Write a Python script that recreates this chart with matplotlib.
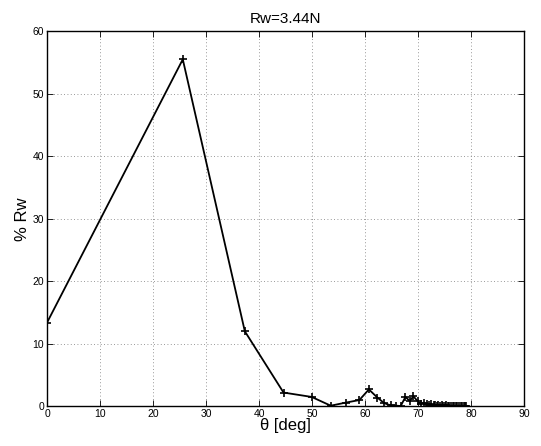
import matplotlib
matplotlib.use("Agg")
import matplotlib.pyplot as plt

plt.rcParams['font.family'] = ['Liberation Sans', 'DejaVu Sans']

theta = [0.0, 25.6, 37.3, 44.6, 49.9, 53.5, 56.4, 58.9, 60.7, 62.3, 63.6, 64.8,
         65.8, 66.7, 67.6, 68.4, 69.1, 69.9, 70.5, 71.1, 71.7, 72.1, 72.5, 72.9,
         73.2, 73.5, 73.8, 74.1, 74.4, 74.7, 75.0, 75.3, 75.6, 75.9, 76.2, 76.5,
         76.8, 77.1, 77.4, 77.7, 78.0, 78.3, 78.6, 78.9, 79.1]
rw_pct = [13.4, 55.5, 12.0, 2.2, 1.5, 0.1, 0.6, 1.0, 2.7, 1.4, 0.5, 0.15,
          0.1, 0.05, 1.5, 0.85, 1.6, 0.8, 0.4, 0.6, 0.3, 0.2, 0.3, 0.15,
          0.2, 0.1, 0.2, 0.1, 0.15, 0.1, 0.1, 0.15, 0.1, 0.05, 0.1, 0.1,
          0.05, 0.1, 0.05, 0.1, 0.05, 0.1, 0.05, 0.05, 0.05]

title_text = "Rw=3.44N"
x_label = "\u03b8 [deg]"
y_label = "% Rw"
x_ticks = [0, 10, 20, 30, 40, 50, 60, 70, 80, 90]
y_ticks = [0, 10, 20, 30, 40, 50, 60]

fig = plt.figure(figsize=(5.41, 4.46), dpi=100)
ax = fig.add_axes([0.087, 0.089, 0.882, 0.841])

ax.plot(theta, rw_pct, color='black', linewidth=1.3, marker='+',
        markersize=6, markeredgewidth=1.2)

ax.set_xlim(0, 90)
ax.set_ylim(0, 60)
ax.set_xticks(x_ticks)
ax.set_yticks(y_ticks)
ax.tick_params(direction='in', top=True, right=True, labelsize=7.5,
               length=4, width=0.6, pad=2)
ax.grid(True, linestyle=(0, (1, 3)), color='#777777', linewidth=0.6)
for sp in ax.spines.values():
    sp.set_linewidth(1.0)

ax.set_title(title_text, fontsize=11, pad=6)
ax.set_xlabel(x_label, fontsize=12, labelpad=-1)
ax.set_ylabel(y_label, fontsize=12, labelpad=2)

fig.savefig("out.png", dpi=100)
